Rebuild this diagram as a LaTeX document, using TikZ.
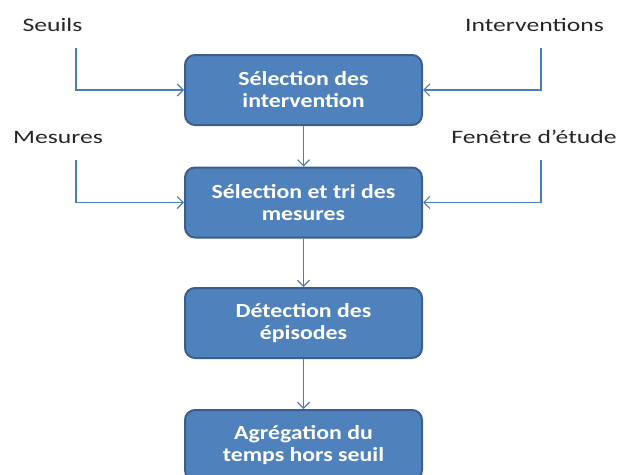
\documentclass[tikz,border=0pt]{standalone}
\usepackage{fontspec}
\setmainfont{Carlito}[FakeStretch=1.19]
\newfontfamily\labelfont{Carlito}[FakeStretch=1.35]
\usetikzlibrary{calc,arrows.meta}
\definecolor{boxblue}{HTML}{4F81BD}
\definecolor{boxedge}{HTML}{3A5F8C}
\definecolor{linkblue}{HTML}{4A7EBB}
\definecolor{labelgray}{HTML}{262626}

\begin{document}
\begin{tikzpicture}[x=1pt,y=-1pt,
    etape/.style={fill=boxblue, draw=boxedge, line width=2pt, rounded corners=10pt,
      minimum width=237pt, minimum height=70pt, align=center, text=white,
      font=\fontsize{20}{22}\selectfont\bfseries},
    entree/.style={text=labelgray, font=\labelfont\fontsize{19}{22}\selectfont},
    lien/.style={draw=linkblue, line width=1.1pt, -{Straight Barb[length=6pt,width=12pt]}}]
  \useasboundingbox (0,0) rectangle (618,474);
  \foreach \nom/\y/\texte in {sel/90/{Sélection des\\intervention},
      tri/202.5/{Sélection et tri des\\mesures},
      det/323/{Détection des\\épisodes},
      agr/445/{Agrégation du\\temps hors seuil}}{
    \node[etape] (\nom) at (303.5,\y) {\texte};
  }
  \node[entree] (seuils) at (52.5,25) {Seuils};
  \node[entree] (interv) at (534.5,25) {Interventions};
  \node[entree] (mesures) at (58,137) {Mesures};
  \node[entree] (fenetre) at (534,137) {Fenêtre d’étude};
  \coordinate (seuils-bas) at (76,48);
  \coordinate (interv-bas) at (541,48);
  \coordinate (mesures-bas) at (76,160);
  \coordinate (fenetre-bas) at (541,160);
  \draw[lien] (seuils-bas) |- (sel);
  \draw[lien] (interv-bas) |- (sel);
  \draw[lien] (mesures-bas) |- (tri);
  \draw[lien] (fenetre-bas) |- (tri);
  \draw[lien] (sel) -- (tri);
  \draw[lien] (tri) -- (det);
  \draw[lien] (det) -- (agr);
\end{tikzpicture}
\end{document}
